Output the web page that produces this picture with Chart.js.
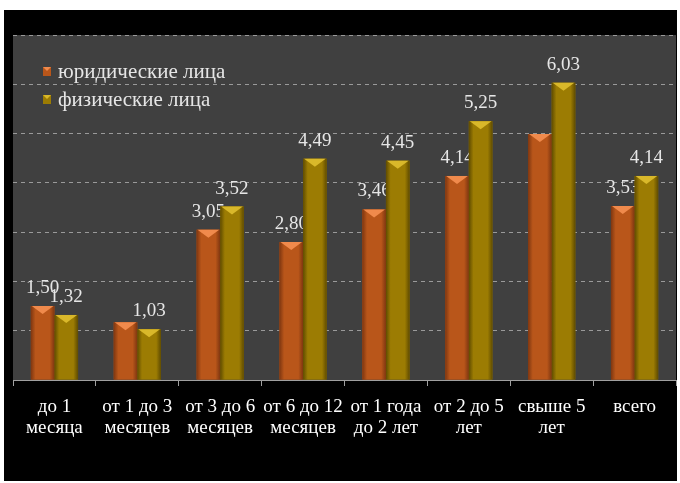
<!DOCTYPE html>
<html lang="ru">
<head>
    <meta charset="UTF-8">
    <title>Юридические и физические лица</title>
    <script src="https://cdn.jsdelivr.net/npm/chart.js"></script>
    <style>
        html, body { margin: 0; padding: 0; background: #ffffff; }
        #quadro { position: absolute; left: 4px; top: 10px; width: 673px; height: 471px; background: #000000; }
    </style>
</head>
<body>
    <div id="quadro">
        <canvas id="grafico" width="673" height="471"></canvas>
    </div>

    <script>
        // categorias (duas linhas cada)
        const categorias = [
            ['до 1', 'месяца'],
            ['от 1 до 3', 'месяцев'],
            ['от 3 до 6', 'месяцев'],
            ['от 6 до 12', 'месяцев'],
            ['от 1 года', 'до 2 лет'],
            ['от 2 до 5', 'лет'],
            ['свыше 5', 'лет'],
            ['всего']
        ];

        const nomeJuridicas = 'юридические лица';
        const nomeFisicas = 'физические лица';

        const valoresJuridicas = [1.50, 1.17, 3.05, 2.80, 3.46, 4.14, 4.99, 3.53];
        const valoresFisicas = [1.32, 1.03, 3.52, 4.49, 4.45, 5.25, 6.03, 4.14];

        // rótulos visíveis no original (null = sem rótulo)
        const rotulosJuridicas = ['1,50', null, '3,05', '2,80', '3,46', '4,14', null, '3,53'];
        const rotulosFisicas = ['1,32', '1,03', '3,52', '4,49', '4,45', '5,25', '6,03', '4,14'];

        const fonteSerif = '"Times New Roman", "Liberation Serif", "DejaVu Serif", serif';

        const cores = [
            { base: '#b9561a', escura: '#7e3610', clara: '#f08a4c' },
            { base: '#9c7c03', escura: '#5f4b00', clara: '#d9b82a' }
        ];

        // fundo cinza da área do gráfico
        const pluginFundo = {
            id: 'fundo',
            beforeDraw(chart) {
                const { ctx, chartArea: a } = chart;
                ctx.save();
                ctx.fillStyle = '#404040';
                ctx.fillRect(a.left, a.top, a.right - a.left, a.bottom - a.top);
                ctx.restore();
            }
        };

        // sombreamento das barras, rótulos e legenda
        const pluginBarras = {
            id: 'barras',
            afterDatasetsDraw(chart) {
                const ctx = chart.ctx;
                const rotulos = [rotulosJuridicas, rotulosFisicas];
                ctx.save();
                chart.data.datasets.forEach((ds, i) => {
                    const meta = chart.getDatasetMeta(i);
                    const c = cores[i];
                    meta.data.forEach((barra, j) => {
                        const w = barra.width;
                        const x0 = barra.x - w / 2;
                        const g = ctx.createLinearGradient(x0, 0, x0 + w, 0);
                        g.addColorStop(0, c.escura);
                        g.addColorStop(0.2, c.base);
                        g.addColorStop(0.8, c.base);
                        g.addColorStop(1, c.escura);
                        ctx.fillStyle = g;
                        ctx.fillRect(x0, barra.y, w, barra.base - barra.y);
                        // chanfro no topo
                        ctx.fillStyle = c.clara;
                        ctx.beginPath();
                        ctx.moveTo(x0 + 1, barra.y);
                        ctx.lineTo(x0 + w - 1, barra.y);
                        ctx.lineTo(barra.x, barra.y + 8);
                        ctx.closePath();
                        ctx.fill();

                        const txt = rotulos[i][j];
                        if (txt) {
                            ctx.fillStyle = '#e6e6e6';
                            ctx.font = '19px ' + fonteSerif;
                            ctx.textAlign = 'center';
                            ctx.textBaseline = 'alphabetic';
                            ctx.fillText(txt, barra.x, barra.y - 13);
                        }
                    });
                });

                // legenda dentro da área
                const a = chart.chartArea;
                chart.data.datasets.forEach((ds, i) => {
                    const y = a.top + 37 + i * 28;
                    const x = a.left + 30;
                    const c = cores[i];
                    ctx.fillStyle = c.base;
                    ctx.fillRect(x, y - 5, 8, 9);
                    ctx.fillStyle = c.clara;
                    ctx.beginPath();
                    ctx.moveTo(x, y - 5);
                    ctx.lineTo(x + 8, y - 5);
                    ctx.lineTo(x + 4, y - 1);
                    ctx.closePath();
                    ctx.fill();
                    ctx.fillStyle = '#e6e6e6';
                    ctx.font = '21px ' + fonteSerif;
                    ctx.textAlign = 'left';
                    ctx.textBaseline = 'middle';
                    ctx.fillText(ds.label, x + 15, y);
                });
                ctx.restore();
            }
        };

        new Chart(document.getElementById('grafico'), {
            type: 'bar',
            data: {
                labels: categorias,
                datasets: [
                    { label: nomeJuridicas, data: valoresJuridicas, backgroundColor: cores[0].base },
                    { label: nomeFisicas, data: valoresFisicas, backgroundColor: cores[1].base }
                ]
            },
            options: {
                responsive: false,
                animation: false,
                datasets: { bar: { categoryPercentage: 0.57, barPercentage: 1.0 } },
                layout: { padding: { left: 9, right: 1, top: 25, bottom: 0 } },
                plugins: {
                    legend: { display: false },
                    tooltip: { enabled: false }
                },
                scales: {
                    x: {
                        afterFit: (s) => { s.height = 101; },
                        grid: { drawOnChartArea: false, drawTicks: true, tickLength: 6, color: '#a0a0a0' },
                        border: { display: true, color: '#a0a0a0' },
                        ticks: {
                            color: '#ffffff',
                            padding: 11,
                            maxRotation: 0,
                            autoSkip: false,
                            font: { family: fonteSerif, size: 19, lineHeight: 1.1 }
                        }
                    },
                    y: {
                        min: 0,
                        max: 7,
                        afterFit: (s) => { s.width = 0; },
                        ticks: { display: false, stepSize: 1 },
                        border: { display: false, dash: [4, 4] },
                        grid: { color: '#9a9a9a', drawTicks: false, lineWidth: 1 }
                    }
                }
            },
            plugins: [pluginFundo, pluginBarras]
        });
    </script>
</body>
</html>
